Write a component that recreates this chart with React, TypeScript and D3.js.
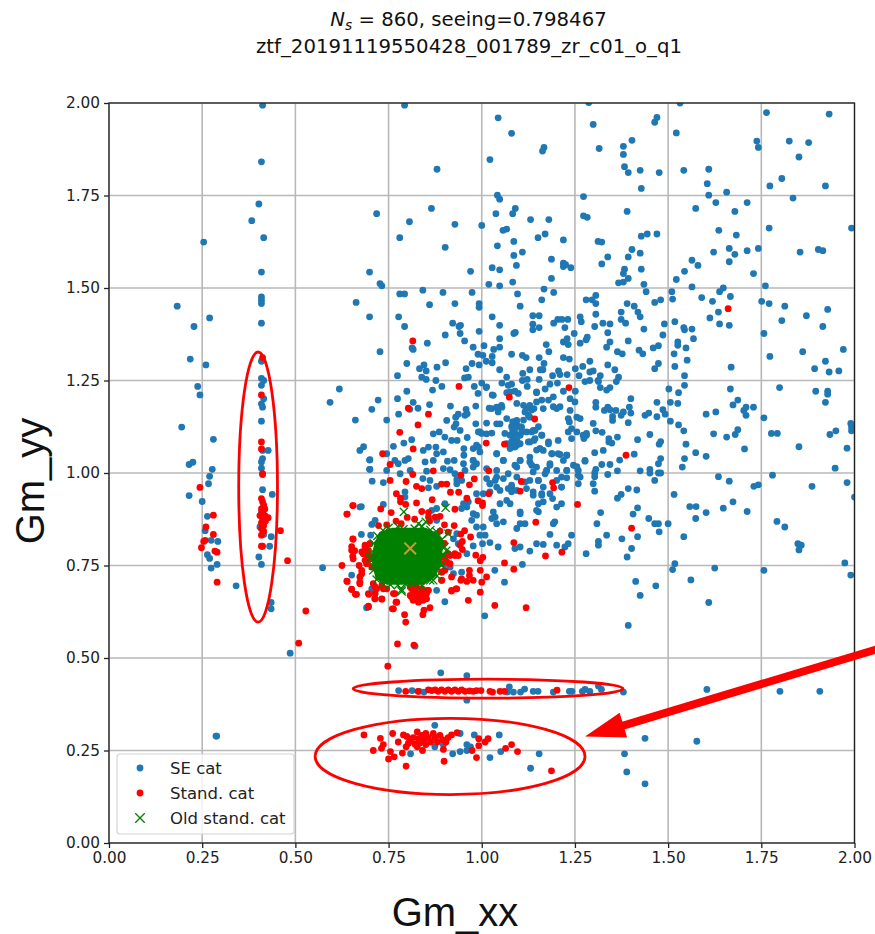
import React, { useEffect, useRef } from 'react';
import * as d3 from 'd3';

const xTicks = [0, 0.25, 0.5, 0.75, 1, 1.25, 1.5, 1.75, 2];
const yTicks = [0, 0.25, 0.5, 0.75, 1, 1.25, 1.5, 1.75, 2];

type Pt = [number, number];

// SE catalogue, outer parts of the plane
const seOuter: Pt[] = [
  [.412,1.994],[.409,1.841],[.402,1.727],[.383,1.682],[.415,1.636],[.254,1.624],[.409,1.543],[.718,1.701],[.699,1.543],[.727,1.512],
  [.183,1.451],[.409,1.476],[.409,1.467],[.409,1.458],[.663,1.461],[.699,1.422],[.27,1.419],[.228,1.396],[.409,1.405],[.218,1.308],
  [.26,1.292],[.409,1.302],[.727,1.328],[.409,1.256],[.415,1.25],[.409,1.237],[.238,1.234],[.244,1.211],[.618,1.227],[.593,1.191],
  [.722,1.197],[.705,1.172],[.661,1.143],[.415,1.201],[.409,1.187],[.412,1.178],[.409,1.14],[.195,1.124],[.28,1.091],[.427,1.061],
  [.412,1.061],[.683,1.071],[.673,1.061],[.412,1.039],[.699,1.035],[.225,1.029],[.215,1.023],[.277,1.01],[.409,1.013],[.699,1.01],
  [.27,.991],[.267,.971],[.215,.939],[.25,.923],[.264,.883],[.258,.844],[.274,.818],[.292,.815],[.264,.779],[.27,.769],
  [.29,.753],[.274,.743],[.341,.695],[.287,.289],[.289,.289],[.409,1.03],[.412,.955],[.438,.942],[.409,.894],[.405,.854],
  [.415,.834],[.435,.828],[.431,.802],[.402,.773],[.409,.753],[.435,.65],[.435,.633],[.486,.513],[.573,.744],[.673,.908],
  [.651,.724],
];

// SE catalogue, upper middle
const seUpper: Pt[] = [
  [.793,1.994],[1.044,1.96],[1.08,1.918],[1.287,2.001],[1.299,1.942],[1.167,1.88],[1.163,1.87],[1.315,1.877],[1.022,1.847],[.88,1.821],
  [1.273,1.747],[1.042,1.751],[1.048,1.74],[.865,1.715],[1.038,1.701],[1.09,1.715],[1.083,1.701],[.806,1.679],[.928,1.672],[1,1.669],
  [1.131,1.685],[1.18,1.685],[1.273,1.695],[1.283,1.691],[1.067,1.659],[1.057,1.656],[.78,1.636],[1.17,1.646],[1.151,1.636],[1.219,1.63],
  [1.312,1.626],[1.086,1.626],[1.042,1.614],[.902,1.61],[1.109,1.597],[1.086,1.588],[1.187,1.578],[1.219,1.567],[1.225,1.563],[1.219,1.558],
  [1.239,1.555],[1.093,1.561],[1.028,1.555],[1.048,1.549],[.97,1.545],[.732,1.506],[1.187,1.526],[1.083,1.516],[1.019,1.51],[1.048,1.506],
  [.842,1.494],[.896,1.488],[.974,1.488],[1.167,1.497],[1.193,1.488],[.78,1.484],[.793,1.484],[1.096,1.484],[1.161,1.468],[1.306,1.48],
  [1.28,1.468],[1.296,1.468],[1.306,1.458],[.86,1.455],[.928,1.458],[.993,1.458],[.993,1.448],[1.103,1.451],[.777,1.422],[1.028,1.422],
  [1.137,1.425],[1.154,1.425],[1.204,1.415],[1.215,1.415],[1.231,1.415],[1.193,1.405],[1.264,1.422],[1.267,1.409],[1.306,1.429],[1.303,1.396],
  [.793,1.396],[.922,1.405],[.943,1.399],[.939,1.396],[1.048,1.399],[1.137,1.402],[1.137,1.387],[1.154,1.393],[1.223,1.393],[.993,1.383],
  [.942,1.377],[1.086,1.377],[1.09,1.38],[.902,1.373],[1.248,1.377],[1.048,1.363],[.854,1.351],[.954,1.357],[.813,1.338],[.816,1.334],
  [1.006,1.344],[.977,1.34],[1.048,1.34],[1.032,1.334],[1.173,1.347],[1.219,1.354],[1.229,1.363],[1.232,1.347],[1.264,1.351],[1.28,1.36],
  [1.283,1.367],[1.08,1.321],[.99,1.321],[1.003,1.318],[1.028,1.315],[1.012,1.302],[1.028,1.298],[1.109,1.318],[1.119,1.312],[1.154,1.312],
  [1.167,1.296],[1.18,1.328],[1.219,1.312],[1.235,1.308],[1.29,1.302],[.903,1.298],[.799,1.296],[.845,1.292],[.833,1.282],[.851,1.276],
  [.88,1.286],[.958,1.282],[.974,1.296],[.993,1.292],[1.048,1.279],[1.129,1.279],[1.11,1.269],[1.157,1.279],[1.164,1.279],[1.206,1.276],
  [1.229,1.266],[1.21,1.266],[1.251,1.282],[1.271,1.288],[1.29,1.273],[1.299,1.276],[.774,1.263],[.839,1.259],[.851,1.253],[.877,1.25],
  [.954,1.257],[.964,1.259],[1.067,1.259],[1.109,1.25],[1.122,1.253],[1.154,1.253],[1.19,1.263],[1.261,1.263],[1.277,1.247],[1.29,1.25],
  [1.312,1.25],[.799,1.221],[.868,1.224],[.893,1.234],[.98,1.234],[1,1.243],[1.012,1.231],[1.054,1.243],[1.08,1.24],[1.071,1.237],
  [1.122,1.234],[1.17,1.227],[1.183,1.24],[1.203,1.243],[1.251,1.221],[1.219,1.221],[1.147,1.217],[1.089,1.221],[1.067,1.217],
];

// SE catalogue, right of x = 1.3
const seRight: Pt[] = [
  [1.532,2],[1.764,1.974],[1.932,1.97],[1.47,1.961],[1.464,1.948],[1.522,1.919],[1.403,1.899],[1.38,1.883],[1.38,1.861],[1.738,1.897],
  [1.742,1.88],[1.825,1.897],[1.877,1.893],[1.851,1.854],[1.383,1.828],[1.393,1.812],[1.425,1.818],[1.476,1.812],[1.542,1.818],[1.609,1.821],
  [1.605,1.782],[1.428,1.769],[1.805,1.796],[1.773,1.776],[1.922,1.776],[1.657,1.759],[1.609,1.751],[1.835,1.743],[1.628,1.731],[1.712,1.731],
  [1.574,1.715],[1.39,1.707],[1.679,1.707],[1.771,1.662],[1.992,1.662],[1.636,1.656],[1.683,1.643],[1.47,1.646],[1.444,1.646],[1.428,1.64],
  [1.322,1.624],[1.403,1.604],[1.393,1.584],[1.425,1.594],[1.338,1.584],[1.322,1.565],[1.664,1.607],[1.712,1.601],[1.742,1.607],[1.622,1.597],
  [1.679,1.591],[1.664,1.571],[1.854,1.597],[1.903,1.604],[1.915,1.601],[1.564,1.575],[1.58,1.561],[1.544,1.545],[1.522,1.523],[1.428,1.551],
  [1.383,1.551],[1.38,1.539],[1.393,1.526],[1.367,1.514],[1.38,1.516],[1.729,1.539],[1.435,1.51],[1.441,1.49],[1.564,1.503],[1.51,1.49],
  [1.512,1.47],[1.761,1.506],[1.648,1.5],[1.638,1.49],[1.667,1.477],[1.59,1.474],[1.619,1.464],[1.751,1.464],[1.771,1.458],[1.813,1.451],
  [1.928,1.442],[1.635,1.435],[1.612,1.419],[1.638,1.403],[1.664,1.399],[1.871,1.425],[1.805,1.412],[1.915,1.396],[1.757,1.377],[1.861,1.328],
  [1.773,1.315],[1.97,1.334],[1.922,1.302],[1.893,1.282],[1.932,1.273],[1.958,1.276],[1.669,1.286],[1.39,1.458],[1.409,1.451],[1.419,1.435],
  [1.425,1.422],[1.374,1.435],[1.374,1.415],[1.386,1.405],[1.325,1.405],[1.344,1.403],[1.338,1.379],[1.464,1.461],[1.48,1.468],[1.435,1.389],
  [1.49,1.403],[1.486,1.373],[1.518,1.409],[1.542,1.393],[1.544,1.387],[1.564,1.389],[1.568,1.363],[1.526,1.354],[1.526,1.345],[1.548,1.338],
  [1.516,1.322],[1.551,1.305],[1.518,1.288],[1.544,1.263],[1.544,1.237],[1.502,1.227],[1.528,1.217],[1.393,1.357],[1.344,1.354],[1.335,1.34],
  [1.364,1.328],[1.377,1.322],[1.422,1.332],[1.432,1.322],[1.46,1.338],[1.474,1.344],[1.474,1.296],[1.464,1.282],[1.338,1.292],[1.357,1.279],
  [1.367,1.259],[1.361,1.247],[1.318,1.263],[1.313,1.247],[1.318,1.231],[1.344,1.231],[1.335,1.224],[1.667,1.227],[1.799,1.231],[1.896,1.221],
  [1.928,1.221],[1.928,1.213],[1.922,1.191],[1.4,1.201],[1.306,1.191],[1.306,1.178],[1.338,1.178],[1.329,1.169],[1.344,1.171],[1.36,1.169],
  [1.38,1.165],[1.374,1.156],[1.396,1.178],[1.4,1.162],[1.351,1.153],[1.351,1.142],[1.47,1.191],[1.506,1.191],[1.526,1.188],[1.486,1.171],
  [1.492,1.159],[1.47,1.152],[1.448,1.162],[1.438,1.156],[1.393,1.136],[1.506,1.14],[1.528,1.13],[1.542,1.114],[1.548,1.078],[1.574,1.055],
  [1.602,1.045],[1.544,1.039],[1.538,1.016],[1.602,1.159],[1.628,1.165],[1.674,1.184],[1.687,1.197],[1.703,1.169],[1.709,1.178],[1.709,1.156],
  [1.729,1.178],[1.757,1.149],[1.622,1.106],[1.657,1.097],[1.68,1.104],[1.687,1.117],[1.705,1.065],[1.777,1.107],[1.793,1.107],[1.851,1.071],
  [1.934,1.104],[1.95,1.114],[1.992,1.124],[1.99,1.134],[1.992,1.114],[1.98,1.067],[1.948,1.013],[1.98,.974],[2,.935],[1.78,.994],
  [1.635,.99],[1.664,.978],[1.73,.964],[1.742,.968],[1.886,.964],[1.516,.942],[1.558,.909],[1.575,.909],[1.602,.893],[1.574,.877],
  [1.648,.905],[1.674,.922],[1.712,.896],[1.792,.869],[1.813,.854],[1.848,.809],[1.857,.805],[1.851,.792],[1.542,.828],[1.5,.863],
  [1.476,.841],[1.464,.863],[1.474,.863],[1.448,.877],[1.418,.906],[1.406,.889],[1.418,.828],[1.376,.822],[1.402,.796],[1.39,.773],
  [1.335,.832],[1.313,.815],[1.313,.805],[1.309,.863],[1.319,.893],[1.416,.954],[1.393,.958],[1.374,.942],[1.364,.932],[1.464,.98],
  [1.474,1],[1.48,1],[1.451,1.01],[1.451,1],[1.425,1.006],[1.364,1.006],[1.338,.996],[1.303,1],[1.303,.99],[1.299,.971],
  [1.303,.951],[1.306,1.01],[1.474,1.025],[1.48,1.039],[1.409,1.051],[1.37,1.035],[1.344,1.023],[1.322,1.023],[1.326,1.061],[1.303,1.055],
  [1.451,1.104],[1.418,1.09],[1.48,1.085],[1.476,1.078],[1.364,1.097],[1.341,1.093],[1.341,1.084],[1.349,1.081],[1.323,1.11],[1.306,1.114],
  [1.299,1.134],[1.413,.707],[1.467,.695],[1.425,.669],[1.393,.588],[1.512,.739],[1.518,.755],[1.561,.711],[1.625,.743],[1.609,.65],
  [1.757,.737],[1.974,.757],[1.99,.724],[1.604,.415],[1.8,.41],[1.907,.41],[1.577,.275],
];

// SE catalogue, dense middle
const seMiddle: Pt[] = [
  [.745,1.143],[.777,1.159],[.774,1.201],[.816,1.191],[.829,1.175],[.807,1.172],[.86,1.185],[.916,1.181],[.937,1.159],[.93,1.151],
  [.958,1.172],[.984,1.181],[.99,1.215],[1.028,1.211],[1.02,1.175],[1.04,1.178],[1.054,1.178],[.955,1.156],[.984,1.133],[.906,1.142],
  [.931,1.133],[.926,1.124],[.961,1.16],[1.04,1.133],[1.013,1.135],[1.083,1.138],[1.094,1.142],[1.12,1.174],[1.129,1.151],[1.14,1.174],
  [1.165,1.174],[1.201,1.174],[1.237,1.169],[1.235,1.138],[1.255,1.111],[1.281,1.102],[.87,1.106],[.886,1.111],[.901,1.097],[.919,1.088],
  [.934,1.088],[.942,1.115],[.961,1.096],[.995,1.111],[1.013,1.106],[1.027,1.108],[1.049,1.133],[1.085,1.133],[1.083,1.115],[1.107,1.124],
  [1.12,1.111],[1.138,1.115],[1.161,1.102],[1.179,1.084],[1.205,1.088],[1.232,1.111],[1.241,1.093],[1.274,1.093],[.812,1.09],[.791,1.081],
  [.763,1.072],[.857,1.07],[.843,1.061],[.877,1.07],[.879,1.052],[.897,1.057],[.952,1.066],[.952,1.048],[.977,1.066],[.991,1.07],
  [1.04,1.052],[1.08,1.07],[1.094,1.075],[1.129,1.084],[1.14,1.088],[1.156,1.066],[1.165,1.061],[1.188,1.052],[1.21,1.05],[1.228,1.048],
  [1.103,1.034],[.745,1.052],[.803,1.039],[.794,1.034],[.767,1.034],[.776,1.025],[.7,1.036],[.7,1.01],[.848,1.03],[.87,1.034],
  [.908,1.032],[.926,1.034],[.951,1.025],[.977,1.034],[.977,1.016],[1.058,1.034],[1.129,1.043],[1.129,1.03],[1.183,1.021],[1.174,1.007],
  [1.201,1.007],[1.228,1.007],[1.246,1.021],[1.259,1.007],[1.277,1.032],[.745,1.007],[.781,.998],[.808,1.007],[.852,1.005],[.897,1.012],
  [.915,1.009],[.928,.998],[.955,1.007],[.986,1.025],[1.013,1.012],[1.04,1.007],[1.094,1.016],[1.147,1.016],[.706,.978],[.736,.974],
  [.842,.985],[.861,.98],[.933,.982],[.946,.98],[1.013,.985],[1.022,.971],[1.04,.989],[1.058,.985],[1.08,.962],[1.094,.989],
  [1.129,.98],[1.152,.98],[1.165,.962],[1.214,.989],[1.228,.987],[1.264,.989],[1.259,.971],[.794,.949],[.794,.935],[.857,.96],
  [.879,.964],[.933,.971],[.986,.944],[1.004,.944],[1.022,.949],[1.04,.962],[1.049,.953],[1.071,.958],[1.094,.953],[1.12,.958],
  [1.138,.949],[1.161,.94],[1.183,.944],[1.214,.962],[1.19,.931],[1.067,.926],[1.076,.917],[1.049,.917],[1.103,.895],[1.152,.917],
  [1.165,.922],[1.214,.917],[.951,.917],[.964,.922],[.879,.904],[.901,.917],[.866,.899],[.96,.908],[.946,.904],[.977,.89],
  [.986,.886],[1.031,.895],[1.036,.881],[1.027,.877],[1.04,.863],[1.058,.868],[1.103,.89],[1.103,.863],[1.116,.863],[1.094,.85],
  [1.152,.895],[1.201,.908],[1.192,.863],[1.196,.868],[1.147,.899],[.677,.909],[.736,.915],[.714,.872],[.705,.861],[.879,.872],
  [.973,.872],[.986,.854],[1.004,.854],[1.183,.834],[1.241,.832],[1.232,.809],[1.223,.8],[1.201,.805],[1.165,.807],[1.147,.809],
  [1.129,.789],[1.103,.8],[1.089,.796],[1.044,.8],[1.022,.812],[1.002,.809],[.977,.803],[.995,.832],[1.009,.832],[.933,.836],
  [.924,.822],[.937,.809],[1.28,.782],[1.109,.753],[1.035,.737],[1.061,.705],[.677,.834],[.702,.832],[.879,.683],[.901,.652],
  [1.008,.614],[.821,.532],[.96,.782],[.915,.746],[.924,.728],[.946,.732],[.901,.755],[.691,.636],[.816,.66],[.705,.687],
];

// SE catalogue, thickest knot around (1.1, 1.1)
const seKnot: Pt[] = [
  [1.027,1.174],[1.044,1.176],[1.053,1.183],[1.044,1.165],[1.067,1.147],[1.085,1.138],[1.094,1.129],[1.08,1.125],[1.103,1.125],[1.089,1.107],
  [1.103,1.102],[1.076,1.102],[1.062,1.107],[1.094,1.088],[1.08,1.084],[1.103,1.079],[1.089,1.07],[1.076,1.066],[1.125,1.156],[1.116,1.165],
  [1.134,1.17],[1.112,1.143],[1.129,1.183],[1.094,1.188],[1.112,1.183],[1.147,1.192],[1.161,1.197],[1.179,1.197],[1.192,1.179],[1.21,1.179],
  [1.152,1.125],[1.143,1.115],[1.134,1.111],[1.161,1.102],[1.143,1.093],[1.125,1.084],[1.179,1.079],[1.156,1.066],[1.147,1.062],[1.188,1.052],
  [1.205,1.052],[1.228,1.048],[1.219,1.034],[1.183,1.025],[1.174,1.007],[1.17,.998],[1.228,1.007],[1.255,1.017],[1.259,.994],[1.232,1.147],
  [1.255,1.151],[1.264,1.147],[1.241,1.12],[1.272,1.102],[1.281,1.107],[1.277,1.034],[.991,1.111],[1,1.107],[.986,1.075],[.995,1.057],
  [.977,1.034],[1.04,1.052],[1.058,1.034],[1.089,1.021],[1.103,1.034],[1.134,1.021],[1.138,1.003],[1.022,.971],[1.036,.98],[1.071,.998],
  [1.08,.967],[1.116,.976],[1.152,.98],[1.201,.98],[1.214,.962],[1.08,.949],[1.138,.94],[1.161,.944],[1.192,1.206],[1.237,1.201],
  [1.25,1.192],[1.076,1.219],[1.098,1.215],[1.147,1.219],[1.031,1.21],[1.013,1.233],[1.089,1.12],[1.067,1.079],[1.107,1.111],[1.085,1.097],
];

// SE catalogue, the two low strips
const seLow: Pt[] = [
  [.777,.412],[.813,.412],[.832,.41],[.845,.408],[1.074,.422],[1.069,.408],[1.085,.408],[1.104,.408],[1.115,.416],[1.138,.41],
  [1.151,.41],[1.192,.408],[1.235,.41],[1.242,.41],[1.27,.41],[1.277,.415],[1.29,.41],[1.313,.424],[1.321,.415],[1.38,.408],
  [.96,.386],[.89,.46],[.96,.452],[.874,.318],[.942,.296],[.98,.292],[1.047,.292],[.96,.266],[.97,.26],[.874,.26],
  [.897,.266],[.922,.241],[.942,.247],[.96,.25],[.809,.241],[1.022,.231],[1.051,.247],[1.131,.202],[1.154,.241],[1.383,.241],
  [1.438,.283],[1.389,.192],[1.438,.16],
];

// standards catalogue
const standScatter: Pt[] = [
  [.412,1.312],[.409,1.211],[.409,1.084],[.409,1.065],[.412,.998],[.412,.996],[.244,.961],[.28,.886],[.26,.854],[.28,.834],
  [.258,.818],[.254,.815],[.248,.798],[.284,.789],[.29,.786],[.29,.705],[.46,.844],[.479,.763],[.528,.627],[.509,.54],
  [.625,.75],[.638,.889],[.654,.912],[.654,.822],[.651,.801],[.659,.79],[.654,.775],[.638,.708],[.651,.686],[.661,.672],
  [.815,1.357],[.939,1.234],[1.234,1.231],[1.661,1.444],[1.387,1.048],[1.402,.851],
  [.803,1.175],[.857,1.159],[.829,1.13],[.78,1.11],[.816,1.065],[.734,1.052],[.754,1.023],[.815,.996],[.754,.98],[.797,.977],
  [.87,1.006],[.944,.994],[.98,.984],[.967,.968],[.892,.97],[.906,.97],[.825,.964],[.839,.958],[.916,.948],[.938,.948],
  [1.019,.944],[.96,.932],[.771,.944],[.782,.932],[.782,.922],[.825,.919],[.867,.928],[.99,.925],[1.002,.919],[1.002,.912],
  [.928,.902],[.796,.915],[.757,.893],[.729,.903],[.655,.912],[.639,.889],[.839,.896],[.857,.893],[.857,.881],[.875,.881],
  [.888,.883],[.784,.863],[.723,.858],[.926,.858],[.954,.844],[.944,.835],[.97,.827],[.888,.843],[.948,.815],[.942,.805],
  [.948,.793],[.937,.777],[.984,.778],[1.003,.772],[.996,.763],[.928,.777],[1.061,.757],[1.086,.74],[.996,.737],[.967,.737],
  [.967,.723],[1.013,.719],[1,.705],[.977,.71],[.96,.707],[.944,.71],[.996,.678],[.964,.656],[1.035,.642],[1.119,.636],
  [.931,.687],[.919,.681],[.893,.732],[.893,.71],[.655,.821],[.651,.791],[.655,.768],[.671,.75],[.639,.707],[.651,.685],
  [.664,.672],[.697,.672],[.713,.66],[.732,.659],[.696,.638],[.76,.633],[.77,.651],[.793,.617],[.796,.597],[.774,.538],
  [.818,.535],[.861,.636],[.842,.617],[.845,.629],[.817,.674],[.83,.674],[.843,.674],[.852,.674],[.825,.66],[.834,.656],
  [.848,.665],[.808,.692],[.821,.687],[.839,.687],[.857,.683],[.812,.665],[.7,.809],[.687,.8],[.678,.787],[.691,.778],
  [.7,.773],[.687,.764],[.678,.737],[.673,.719],[.673,.701],[.709,.701],[.718,.687],[.745,.687],[.763,.674],[.732,.696],
  [.897,.773],[.91,.782],[.906,.76],[.915,.755],[.892,.755],[.901,.737],[1.074,1.205],[1.142,1.146],[1.012,1.081],[1.061,1.078],
  [1.019,1.006],[1.106,.977],[1.103,.951],[1.19,.974],[1.193,.96],[1.257,.915],[1.145,.867],[1.086,.812],[1.171,.776],[1.215,.786],
];

// standards crowding the rim of the green cloud
const standRim: Pt[] = [
  [.687,.805],[.7,.809],[.696,.791],[.682,.782],[.703,.768],[.691,.755],[.705,.746],[.678,.728],[.673,.705],[.714,.692],
  [.736,.687],[.714,.674],[.696,.674],[.714,.66],[.732,.66],[.767,.674],[.772,.651],[.763,.633],[.696,.64],[.812,.687],
  [.825,.692],[.839,.687],[.852,.683],[.808,.669],[.821,.674],[.834,.669],[.848,.669],[.816,.656],[.83,.651],[.843,.656],
  [.852,.66],[.879,.746],[.892,.755],[.901,.773],[.915,.777],[.928,.782],[.892,.733],[.892,.71],[.919,.719],[.946,.714],
  [.919,.683],[.933,.687],[.77,.87],[.745,.86],[.8,.88],[.82,.875],[.86,.87],[.9,.86],[.91,.84],[.9,.81],
];

// tight column of standards inside the tall ellipse
const standColumn: Pt[] = [
  [.409,.931],[.412,.922],[.415,.913],[.409,.903],[.418,.903],[.412,.894],[.405,.885],[.418,.885],[.427,.879],[.412,.876],
  [.42,.87],[.409,.865],[.415,.858],[.409,.849],[.415,.843],[.409,.832],[.412,.802],[.409,.802],
];

// strip at Gm_yy ~ 0.41 and blob at Gm_yy ~ 0.28
const standStrip: Pt[] = [
  [.796,.41],[.829,.41],[.857,.414],[.866,.412],[.875,.414],[.883,.41],[.892,.414],[.901,.41],[.91,.414],[.919,.41],
  [.928,.414],[.937,.41],[.946,.414],[.955,.41],[.968,.411],[.977,.41],[.986,.412],[.998,.412],[1.022,.41],[1.029,.408],
  [1.049,.41],[1.061,.41],[1.202,.413],[.748,.478],
];
const standLow: Pt[] = [
  [.79,.292],[.799,.288],[.807,.276],[.797,.26],[.803,.269],[.816,.285],[.821,.267],[.827,.3],[.83,.282],[.834,.27],
  [.839,.291],[.845,.278],[.85,.296],[.857,.285],[.863,.273],[.87,.296],[.875,.285],[.881,.273],[.888,.291],[.895,.279],
  [.904,.273],[.91,.285],[.85,.266],[.827,.26],[.841,.25],[.684,.292],[.728,.283],[.761,.296],[.736,.266],[.731,.256],
  [.709,.25],[.755,.247],[.765,.233],[.75,.227],[.787,.243],[.797,.208],[.776,.273],[.899,.221],[.897,.253],[.934,.298],
  [.919,.292],[.992,.282],[1.017,.282],[1.009,.273],[.992,.263],[.974,.25],[.986,.231],[1.064,.256],[1.08,.266],[1.096,.247],
  [1.187,.195],
];

// old standards: the overplotted core is solid green in the picture
const oldCore: Pt[] = [
  [.712,.81],[.725,.84],[.76,.852],[.807,.85],[.85,.852],[.88,.838],[.897,.81],[.892,.76],[.878,.722],[.845,.698],
  [.8,.7],[.745,.698],[.715,.715],[.703,.77],
];
const oldStand: Pt[] = [
  [.791,.895],[.903,.906],[.85,.868],[.83,.863],[.91,.836],[.884,.832],[.785,.685],[.7,.77],[.709,.737],[.72,.83],
  [.735,.845],[.75,.852],[.775,.855],[.79,.848],[.82,.85],[.84,.856],[.862,.846],[.878,.842],[.893,.82],[.9,.8],
  [.897,.778],[.892,.75],[.88,.722],[.862,.71],[.84,.695],[.815,.7],[.795,.7],[.775,.697],[.755,.698],[.735,.7],
  [.718,.712],[.708,.75],[.703,.785],[.71,.81],[.745,.71],[.785,.68],[.857,.728],[.87,.71],[.725,.72],[.905,.79],
];
const oldMean: Pt[] = [[.808, .796]];

// hand-drawn annotations on top of the figure, in data units
const ellipses = [
  { cx: .4, cy: .962, rx: .052, ry: .365 },
  { cx: 1.017, cy: .417, rx: .362, ry: .0257 },
  { cx: .915, cy: .234, rx: .362, ry: .103 },
];
const arrowShaft: Pt[] = [[2.095, .534], [1.375, .316]];
const arrowHead: Pt[] = [[1.277, .288], [1.37, .352], [1.39, .285]];

const seDots = [...seOuter, ...seUpper, ...seRight, ...seMiddle, ...seKnot, ...seLow];
const standDots = [...standScatter, ...standRim, ...standColumn, ...standStrip, ...standLow];

const width = 875;
const height = 934;
const margin = { top: 103, right: 20.5, bottom: 91, left: 109 };
const tickFont = 'DejaVu Sans, sans-serif';
const labelFont = 'Liberation Sans, Arial, sans-serif';
const dotRadius = 3.4;

const App = () => {
  const svgRef = useRef<SVGSVGElement | null>(null);

  useEffect(() => {
    const svg = d3.select(svgRef.current);
    svg.selectAll('*').remove();

    const x = d3.scaleLinear().domain([0, 2]).range([margin.left, width - margin.right]);
    const y = d3.scaleLinear().domain([0, 2]).range([height - margin.bottom, margin.top]);

    svg.append('defs').append('clipPath').attr('id', 'plot-clip')
      .append('rect')
      .attr('x', x(0)).attr('y', y(2))
      .attr('width', x(2) - x(0)).attr('height', y(0) - y(2));

    const grid = svg.append('g').attr('stroke', '#b8b8b8').attr('stroke-width', 1.6);
    grid.selectAll('.gx').data(xTicks).join('line')
      .attr('x1', d => x(d)).attr('x2', d => x(d)).attr('y1', y(0)).attr('y2', y(2));
    grid.selectAll('.gy').data(yTicks).join('line')
      .attr('y1', d => y(d)).attr('y2', d => y(d)).attr('x1', x(0)).attr('x2', x(2));

    const plot = svg.append('g').attr('clip-path', 'url(#plot-clip)');

    plot.append('g').selectAll('circle').data(seDots).join('circle')
      .attr('cx', d => x(d[0])).attr('cy', d => y(d[1])).attr('r', dotRadius).attr('fill', '#1f77b4');
    plot.append('g').selectAll('circle').data(standDots).join('circle')
      .attr('cx', d => x(d[0])).attr('cy', d => y(d[1])).attr('r', dotRadius).attr('fill', '#ff0000');

    const hull = d3.polygonHull(oldCore.map(d => [x(d[0]), y(d[1])] as Pt));
    plot.append('path').attr('d', `M${hull!.join('L')}Z`).attr('fill', '#008000');

    const cross = d3.symbol(d3.symbolX, 45);
    plot.append('g').selectAll('path').data(oldStand).join('path')
      .attr('d', cross)
      .attr('transform', d => `translate(${x(d[0])},${y(d[1])})`)
      .attr('fill', 'none').attr('stroke', '#008000').attr('stroke-width', 1.3);
    plot.append('g').selectAll('path').data(oldMean).join('path')
      .attr('d', d3.symbol(d3.symbolX, 90))
      .attr('transform', d => `translate(${x(d[0])},${y(d[1])})`)
      .attr('fill', 'none').attr('stroke', '#e0922a').attr('stroke-width', 2);

    // axes
    const xAxis = svg.append('g')
      .attr('transform', `translate(0,${y(0)})`)
      .call(d3.axisBottom(x).tickValues(xTicks).tickFormat(d3.format('.2f')).tickSize(5).tickPadding(4));
    const yAxis = svg.append('g')
      .attr('transform', `translate(${x(0)},0)`)
      .call(d3.axisLeft(y).tickValues(yTicks).tickFormat(d3.format('.2f')).tickSize(5).tickPadding(4));
    [xAxis, yAxis].forEach(axis => {
      axis.select('.domain').remove();
      axis.selectAll('line').attr('stroke', '#222').attr('stroke-width', 1.3);
      axis.selectAll('text').attr('fill', '#222').style('font-family', tickFont).style('font-size', '15.3px');
    });

    svg.append('rect')
      .attr('x', x(0)).attr('y', y(2))
      .attr('width', x(2) - x(0)).attr('height', y(0) - y(2))
      .attr('fill', 'none').attr('stroke', '#222').attr('stroke-width', 1.3);

    // legend
    const legend = svg.append('g');
    legend.append('rect')
      .attr('x', 117).attr('y', 754).attr('width', 177).attr('height', 80).attr('rx', 3)
      .attr('fill', '#fff').attr('fill-opacity', 0.8).attr('stroke', '#d4d4d4').attr('stroke-width', 1.2);
    const legendRows = [
      { label: 'SE cat', color: '#1f77b4' },
      { label: 'Stand. cat', color: '#ff0000' },
      { label: 'Old stand. cat', color: '#008000' },
    ];
    legendRows.forEach((row, i) => {
      const ly = 768 + i * 25;
      if (i < 2) {
        legend.append('circle').attr('cx', 140).attr('cy', ly).attr('r', dotRadius).attr('fill', row.color);
      } else {
        legend.append('path').attr('d', d3.symbol(d3.symbolX, 60)())
          .attr('transform', `translate(140,${ly})`)
          .attr('fill', 'none').attr('stroke', row.color).attr('stroke-width', 1.3);
      }
      legend.append('text')
        .attr('x', 170).attr('y', ly + 6)
        .style('font-family', tickFont).style('font-size', '16.5px').attr('fill', '#222')
        .text(row.label);
    });

    // annotations
    const notes = svg.append('g');
    notes.selectAll('ellipse').data(ellipses).join('ellipse')
      .attr('cx', d => x(d.cx)).attr('cy', d => y(d.cy))
      .attr('rx', d => x(d.rx) - x(0)).attr('ry', d => y(0) - y(d.ry))
      .attr('fill', 'none').attr('stroke', '#ff0000').attr('stroke-width', 2.8);
    notes.append('line')
      .attr('x1', x(arrowShaft[0][0])).attr('y1', y(arrowShaft[0][1]))
      .attr('x2', x(arrowShaft[1][0])).attr('y2', y(arrowShaft[1][1]))
      .attr('stroke', '#ff0000').attr('stroke-width', 8);
    notes.append('path')
      .attr('d', `M${arrowHead.map(d => [x(d[0]), y(d[1])]).join('L')}Z`)
      .attr('fill', '#ff0000');

    // titles and axis labels
    const title = svg.append('text')
      .attr('x', 468.5).attr('y', 26).attr('text-anchor', 'middle')
      .style('font-family', tickFont).style('font-size', '19.7px').attr('fill', '#111');
    title.append('tspan').attr('font-style', 'italic').text('N');
    title.append('tspan').attr('font-style', 'italic').attr('dy', 4).style('font-size', '13.8px').text('s');
    title.append('tspan').attr('dy', -4).text(' = 860, seeing=0.798467');
    svg.append('text')
      .attr('x', 469).attr('y', 53).attr('text-anchor', 'middle')
      .style('font-family', tickFont).style('font-size', '19.7px').attr('fill', '#111')
      .text('ztf_20191119550428_001789_zr_c01_o_q1');

    svg.append('text')
      .attr('x', 455).attr('y', 926).attr('text-anchor', 'middle')
      .style('font-family', labelFont).style('font-size', '40px').attr('fill', '#111')
      .text('Gm_xx');
    svg.append('text')
      .attr('transform', `translate(44,481) rotate(-90)`).attr('text-anchor', 'middle')
      .style('font-family', labelFont).style('font-size', '40px').attr('fill', '#111')
      .text('Gm_yy');
  }, []);

  return (
    <svg
      ref={svgRef}
      width={width}
      height={height}
      style={{ position: 'absolute', left: 0, top: 0, display: 'block', background: '#fff' }}
    />
  );
};

export default App;
